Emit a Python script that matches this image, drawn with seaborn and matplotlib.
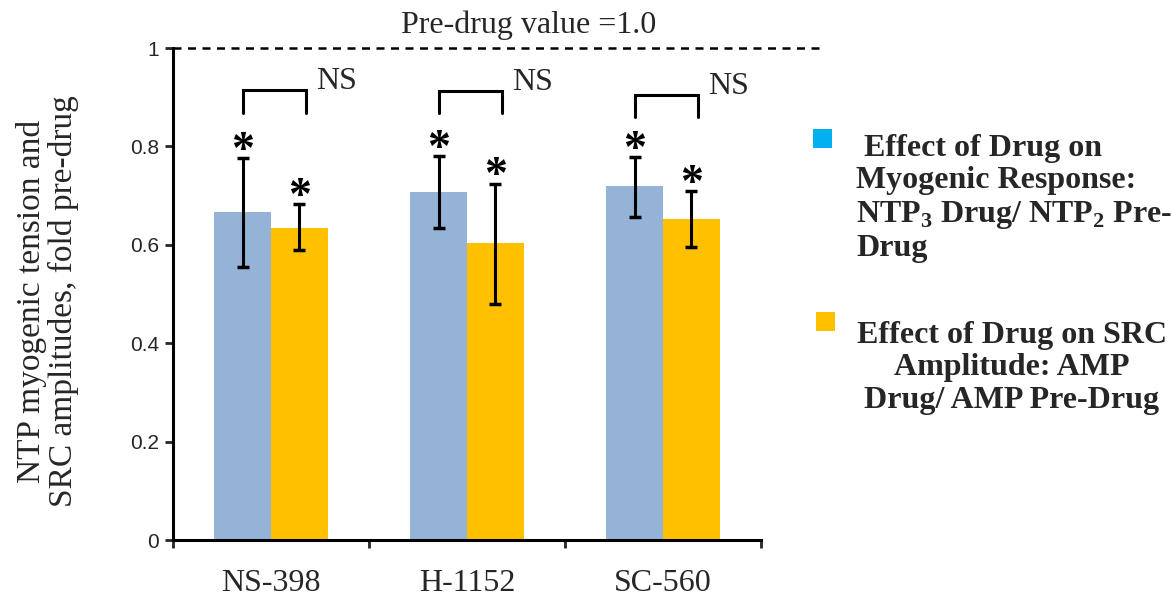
import matplotlib
matplotlib.use("Agg")
import matplotlib.pyplot as plt
import seaborn as sns
import pandas as pd
import numpy as np
from matplotlib.patches import Rectangle

drugs = ["NS-398", "H-1152", "SC-560"]
series = ["Myogenic", "SRC"]
myo_vals = [0.667, 0.707, 0.720]
myo_lo = [0.555, 0.634, 0.656]
myo_hi = [0.776, 0.780, 0.778]
src_vals = [0.634, 0.603, 0.652]
src_lo = [0.589, 0.480, 0.596]
src_hi = [0.683, 0.724, 0.709]
yticks = [0, 0.2, 0.4, 0.6, 0.8, 1.0]
ytick_labels = ["0", "0.2", "0.4", "0.6", "0.8", "1"]

bar_colors = ["#95B3D7", "#FFC000"]
legend_colors = ["#00B0F0", "#FFC000"]

sns.set_theme(style="white")
plt.rcParams["font.family"] = ["Liberation Serif", "DejaVu Serif"]
plt.rcParams["mathtext.fontset"] = "custom"
plt.rcParams["mathtext.rm"] = "Liberation Serif"
plt.rcParams["mathtext.bf"] = "Liberation Serif:bold"

df = pd.DataFrame({
    "drug": drugs * 2,
    "series": [series[0]] * 3 + [series[1]] * 3,
    "value": myo_vals + src_vals,
})

W, H = 1172, 598
fig = plt.figure(figsize=(W / 100, H / 100), dpi=100)
ax = fig.add_axes([173 / W, 1 - 540 / H, (761 - 173) / W, (540 - 48) / H])

sns.barplot(data=df, x="drug", y="value", hue="series", order=drugs,
            hue_order=series, palette=bar_colors, width=0.58, ax=ax,
            errorbar=None, legend=False, saturation=1, linewidth=0)

# bar centers from the axes patches
bars = [p for p in ax.patches if p.get_height() > 0]
centers = {}
for p in bars:
    cx = p.get_x() + p.get_width() / 2
    centers.setdefault(round(p.get_height(), 4), []).append(cx)

def center_of(v):
    return centers[round(v, 4)].pop(0)

myo_x = [center_of(v) for v in myo_vals]
src_x = [center_of(v) for v in src_vals]

for xs, vals, lo, hi in [(myo_x, myo_vals, myo_lo, myo_hi), (src_x, src_vals, src_lo, src_hi)]:
    vals = np.array(vals); lo = np.array(lo); hi = np.array(hi)
    ax.errorbar(xs, vals, yerr=[vals - lo, hi - vals], fmt="none", ecolor="black",
                elinewidth=2.2, capsize=4.5, capthick=2.5, zorder=5)
    for x, h in zip(xs, hi):
        ax.annotate("*", (x, h), xytext=(0, -10.5), textcoords="offset points",
                    ha="center", va="bottom", fontsize=33, fontweight="bold", color="black")

# NS brackets
bracket_top = [0.915, 0.913, 0.905]
bracket_bot = [0.868, 0.868, 0.860]
for i in range(3):
    xl, xr = myo_x[i], src_x[i] + 0.035
    ax.plot([xl, xl, xr, xr], [bracket_bot[i], bracket_top[i], bracket_top[i], bracket_bot[i]],
            color="black", lw=2.2, clip_on=False, solid_joinstyle="miter")
    ax.text(xr + 0.05, bracket_top[i] + 0.002, "NS", ha="left", va="baseline", fontsize=23)

# dashed pre-drug line
ax.plot([-0.5, 2.80], [1.0, 1.0], ls=(0, (3.2, 2.6)), color="black", lw=1.8, clip_on=False)
ax.text(1.316, 1.030, "Pre-drug value =1.0", ha="center", va="baseline", fontsize=23)

ax.set_xlim(-0.5, 2.5)
ax.set_ylim(0, 1)
ax.set_yticks(yticks)
ax.set_yticklabels(ytick_labels, fontfamily="Liberation Sans", fontsize=15)
ax.set_xticks([-0.5, 0.5, 1.5, 2.5], minor=False)
ax.set_xticklabels([])
ax.set_xticks([0, 1, 2], minor=True)
ax.set_xticklabels(drugs, minor=True, fontsize=23)
ax.tick_params(axis="x", which="minor", length=0, pad=21)
ax.tick_params(axis="x", which="major", direction="out", length=6, width=2, bottom=True)
ax.tick_params(axis="y", direction="out", length=6, width=2, left=True, pad=4)
ax.set_xlabel("")
ax.set_ylabel("NTP myogenic tension and\nSRC amplitudes, fold pre-drug", fontsize=24,
              linespacing=1.05)
ax.yaxis.set_label_coords((79 - 173) / 588, (540 - 301) / 492)
for s in ["top", "right"]:
    ax.spines[s].set_visible(False)
for s in ["left", "bottom"]:
    ax.spines[s].set_linewidth(2.2)
    ax.spines[s].set_color("black")

# legend
fig.patches.append(Rectangle((813 / W, 1 - 148 / H), 19 / W, 19 / H, transform=fig.transFigure,
                             facecolor=legend_colors[0], edgecolor="none"))
fig.patches.append(Rectangle((816 / W, 1 - 331 / H), 19 / W, 19 / H, transform=fig.transFigure,
                             facecolor=legend_colors[1], edgecolor="none"))
fig.text(856 / W, 1 - 134 / H,
         " Effect of Drug on\nMyogenic Response:\nNTP$_\\mathbf{3}$ Drug/ NTP$_\\mathbf{2}$ Pre-\nDrug",
         ha="left", va="top", fontsize=23, fontweight="bold", linespacing=1.15)
fig.text(1012 / W, 1 - 321 / H,
         "Effect of Drug on SRC\nAmplitude: AMP\nDrug/ AMP Pre-Drug",
         ha="center", va="top", fontsize=23, fontweight="bold", linespacing=1.15,
         multialignment="center")

fig.savefig("out.png", dpi=100)
